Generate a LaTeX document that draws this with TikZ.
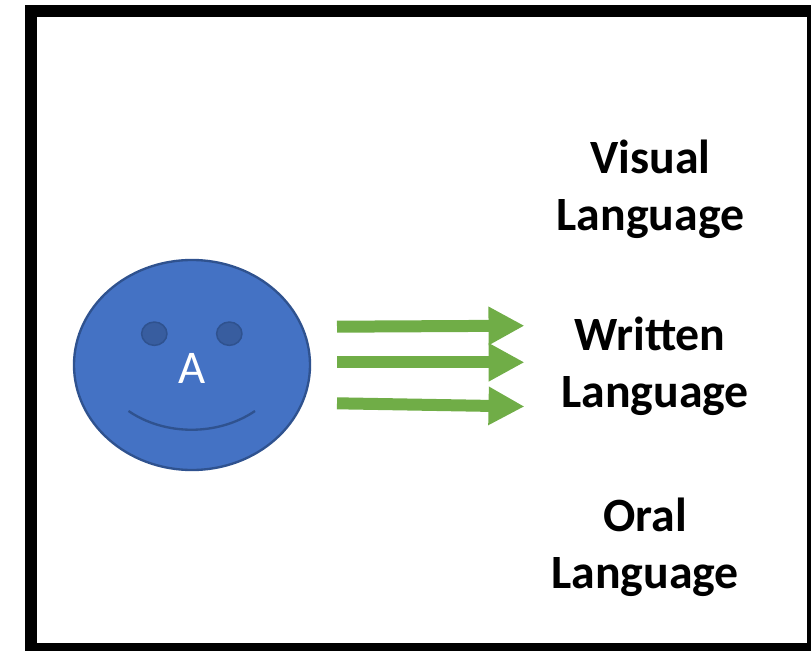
\documentclass[tikz,border=0pt]{standalone}
\usepackage{fontspec}
\setmainfont{Carlito}
\usetikzlibrary{arrows.meta, shapes.geometric}
\definecolor{facefill}{HTML}{4472C4}
\definecolor{faceline}{HTML}{2F528F}
\definecolor{eyefill}{HTML}{385D9F}
\definecolor{arrowgreen}{HTML}{70AD47}

\begin{document}
\begin{tikzpicture}[x=0.03cm, y=-0.03cm,
    face/.style={ellipse, draw=faceline, fill=facefill, line width=2pt, minimum width=7.08cm, minimum height=6.3cm, inner sep=0pt},
    eye/.style={ellipse, draw=faceline, fill=eyefill, line width=1.3pt, minimum width=0.76cm, minimum height=0.7cm, inner sep=0pt},
    letter/.style={text=white, font=\fontsize{40}{48}\selectfont, inner sep=0pt},
    language/.style={align=center, font=\fontsize{40.8}{48.6}\selectfont\bfseries, inner sep=0pt},
    pointer/.style={arrowgreen, line width=10.24pt, -{Triangle[length=30.7pt, width=30.7pt]}}]
            \useasboundingbox (0,0) rectangle (811,651);

            % Outer frame
            \draw[line width=10.24pt] (31,11) rectangle (813,649);

            % Face
            \node[face] (face) at (192,365) {};
            \node[eye] (eye-1) at (154.3,333.7) {};
            \node[eye] (eye-2) at (229.3,333.7) {};
            \node[letter] (A) at (192,368) {A};
            \coordinate (smile-1) at (128.5,411);
            \coordinate (smile-2) at (255,411);
            \draw[faceline, line width=2pt] (smile-1) .. controls (165,436) and (218,436) .. (smile-2);

            % Labels
            \node[language] (visual) at (650.5,189) {Visual\\Language};
            \node[language] (written) at (655,366) {Written\hspace*{0.3cm}\\Language};
            \node[language] (oral) at (645,547) {Oral\\Language};

            % Arrows
            \coordinate (tail-1) at (337,326.7);
            \coordinate (tail-2) at (337,362.3);
            \coordinate (tail-3) at (337,403.3);
            \coordinate (tip-1) at (524.5,325.7);
            \coordinate (tip-2) at (524.5,362.3);
            \coordinate (tip-3) at (524.5,406.5);
            \draw[pointer] (tail-1) -- (tip-1);
            \draw[pointer] (tail-2) -- (tip-2);
            \draw[pointer] (tail-3) -- (tip-3);
        \end{tikzpicture}
\end{document}
